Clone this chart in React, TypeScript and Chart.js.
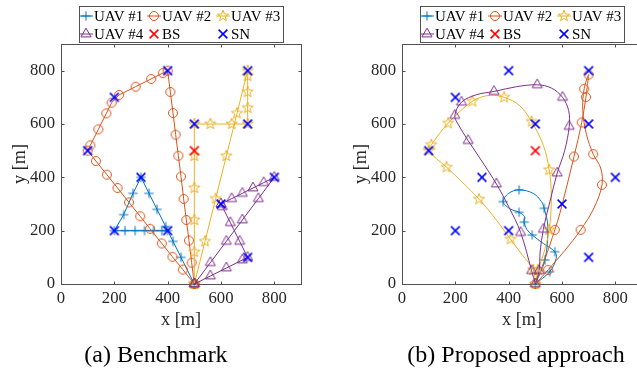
import React, { useEffect, useRef } from 'react';
import { Chart, registerables } from 'chart.js';

Chart.register(...registerables);

// ---------- axes / text ----------
const X_TICKS = [0, 200, 400, 600, 800];
const Y_TICKS = [0, 200, 400, 600, 800];
const AXIS_MIN = 0;
const AXIS_MAX = 900;
const X_LABEL = 'x [m]';
const Y_LABEL = 'y [m]';
const LEGEND_LABELS = ['UAV #1', 'UAV #2', 'UAV #3', 'UAV #4', 'BS', 'SN'];
const CAPTIONS = ['(a) Benchmark', '(b) Proposed approach'];

// ---------- nodes ----------
const SN_X = [400, 700, 200, 500, 700, 100, 300, 800, 600, 200, 400, 700];
const SN_Y = [800, 800, 700, 600, 600, 500, 400, 400, 300, 200, 200, 100];
const BS_X = [500];
const BS_Y = [500];

// ---------- (a) Benchmark: straight trajectories, marker at every sample ----------
const B1_X = [500, 450, 420, 393, 360, 330, 300, 270, 235, 200, 240, 278, 313, 347, 378, 400];
const B1_Y = [0, 100, 160, 215, 280, 340, 400, 340, 260, 200, 200, 200, 200, 200, 200, 200];
const B2_X = [500, 490, 480, 470, 460, 450, 440, 430, 420, 410, 400, 382, 338, 280, 218, 190, 170, 140, 110, 100, 131, 172, 212, 255, 297, 334, 378, 418, 457, 500];
const B2_Y = [0, 80, 163, 240, 319, 403, 481, 560, 641, 720, 800, 791, 769, 740, 709, 680, 640, 580, 520, 500, 461, 410, 360, 306, 254, 207, 152, 102, 54, 0];
const B3_X = [500, 500, 500, 500, 500, 500, 560, 640, 700, 700, 700, 700, 700, 660, 620, 580, 540, 500];
const B3_Y = [0, 120, 240, 360, 480, 600, 600, 600, 600, 660, 720, 780, 800, 640, 480, 320, 160, 0];
const B4_X = [500, 560, 620, 680, 700, 670, 635, 605, 600, 640, 680, 720, 760, 800, 740, 680, 620, 560, 500];
const B4_Y = [0, 30, 60, 90, 100, 160, 230, 290, 300, 320, 340, 360, 380, 400, 320, 240, 160, 80, 0];

// ---------- (b) Proposed: smooth trajectories (waypoints) and marker samples ----------
const P1_PATH_X = [500, 554, 578, 573, 530, 488, 468, 458, 460, 439, 405, 379, 400, 439, 492, 523, 533, 547, 536, 500];
const P1_PATH_Y = [0, 46, 95, 121, 152, 184, 205, 232, 252, 269, 282, 309, 340, 353, 340, 309, 284, 215, 90, 0];
const P1_MARK_X = [500, 554, 573, 488, 458, 439, 379, 439, 533, 536];
const P1_MARK_Y = [0, 46, 121, 184, 232, 269, 309, 353, 284, 90];

const P2_PATH_X = [500, 548, 610, 670, 720, 750, 745, 717, 692, 678, 683, 700, 695, 690, 674, 645, 592, 573, 535, 500];
const P2_PATH_Y = [0, 53, 125, 203, 285, 372, 435, 487, 560, 650, 732, 785, 745, 701, 606, 478, 265, 203, 90, 0];
const P2_MARK_X = [500, 548, 670, 750, 717, 683, 700, 690, 674, 645, 573];
const P2_MARK_Y = [0, 53, 203, 372, 487, 732, 785, 701, 606, 478, 203];

const P3_PATH_X = [500, 492, 450, 407, 350, 289, 228, 167, 100, 110, 173, 264, 330, 383, 440, 486, 530, 552, 560, 552, 530, 510, 500];
const P3_PATH_Y = [0, 53, 110, 168, 245, 318, 380, 438, 500, 522, 603, 685, 708, 700, 670, 609, 520, 428, 330, 203, 110, 53, 0];
const P3_MARK_X = [500, 492, 407, 289, 167, 100, 110, 173, 264, 383, 486, 552, 552, 510];
const P3_MARK_Y = [0, 53, 168, 318, 438, 500, 522, 603, 685, 700, 609, 428, 203, 53];

const P4_PATH_X = [500, 486, 445, 400, 354, 300, 248, 210, 198, 223, 280, 345, 430, 507, 560, 602, 625, 627, 610, 582, 555, 530, 518, 514, 500];
const P4_PATH_Y = [0, 50, 193, 290, 375, 460, 538, 600, 632, 682, 710, 722, 740, 747, 735, 700, 650, 591, 500, 416, 310, 205, 120, 50, 0];
const P4_MARK_X = [500, 486, 445, 354, 248, 198, 223, 345, 507, 602, 627, 582, 530, 514];
const P4_MARK_Y = [0, 50, 193, 375, 538, 632, 682, 722, 747, 700, 591, 416, 205, 50];

// ---------- styles ----------
const FONT = "'Liberation Serif', 'Times New Roman', serif";
const TEXT_COLOR = '#262626';
const AXIS_COLOR = '#505050';
const UAV_COLORS = ['#0072BD', '#D95319', '#EDB120', '#7E2F8E'];
const BS_COLOR = '#FF0000';
const SN_COLOR = '#0000FF';
type Kind = 'plus' | 'circle' | 'star' | 'triangle' | 'x';
const UAV_KINDS: Kind[] = ['plus', 'circle', 'star', 'triangle'];

const zip = (xs: number[], ys: number[]) => xs.map((x, i) => ({ x, y: ys[i] }));

function traceMarker(ctx: CanvasRenderingContext2D, kind: Kind, x: number, y: number) {
  switch (kind) {
    case 'plus': {
      const r = 4.6;
      ctx.moveTo(x - r, y); ctx.lineTo(x + r, y);
      ctx.moveTo(x, y - r); ctx.lineTo(x, y + r);
      break;
    }
    case 'circle':
      ctx.moveTo(x + 4.5, y);
      ctx.arc(x, y, 4.5, 0, Math.PI * 2);
      break;
    case 'star': {
      const R = 5.8, r = R * 0.42;
      for (let i = 0; i < 10; i++) {
        const a = -Math.PI / 2 + (i * Math.PI) / 5;
        const rr = i % 2 === 0 ? R : r;
        const px = x + rr * Math.cos(a), py = y + rr * Math.sin(a);
        if (i === 0) ctx.moveTo(px, py); else ctx.lineTo(px, py);
      }
      ctx.closePath();
      break;
    }
    case 'triangle': {
      const r = 5.8;
      for (let i = 0; i < 3; i++) {
        const a = -Math.PI / 2 + (i * 2 * Math.PI) / 3;
        const px = x + r * Math.cos(a), py = y + r * Math.sin(a);
        if (i === 0) ctx.moveTo(px, py); else ctx.lineTo(px, py);
      }
      ctx.closePath();
      break;
    }
    case 'x': {
      const h = 4.4;
      ctx.moveTo(x - h, y - h); ctx.lineTo(x + h, y + h);
      ctx.moveTo(x + h, y - h); ctx.lineTo(x - h, y + h);
      break;
    }
  }
}

function drawMarker(ctx: CanvasRenderingContext2D, kind: Kind, x: number, y: number, color: string, width: number) {
  ctx.save();
  ctx.strokeStyle = color;
  ctx.lineWidth = width;
  ctx.beginPath();
  traceMarker(ctx, kind, x, y);
  ctx.stroke();
  ctx.restore();
}

function markerImage(kind: Kind, color: string, width: number) {
  const c = document.createElement('canvas');
  c.width = 16; c.height = 16;
  const ctx = c.getContext('2d')!;
  drawMarker(ctx, kind, 8, 8, color, width);
  return c;
}

const LEGEND_ITEMS = [
  { kind: 'plus' as Kind, color: UAV_COLORS[0], line: true, w: 1 },
  { kind: 'circle' as Kind, color: UAV_COLORS[1], line: true, w: 1 },
  { kind: 'star' as Kind, color: UAV_COLORS[2], line: true, w: 1 },
  { kind: 'triangle' as Kind, color: UAV_COLORS[3], line: true, w: 1 },
  { kind: 'x' as Kind, color: BS_COLOR, line: false, w: 1.5 },
  { kind: 'x' as Kind, color: SN_COLOR, line: false, w: 1.5 },
];
const LEGEND_COLS = [25, 93, 162];

const framePlugin = {
  id: 'matlabFrame',
  beforeDatasetsDraw(chart: any) {
    const { ctx, chartArea: a, scales } = chart;
    const L = Math.round(a.left) + 0.5, R = Math.round(a.right) + 0.5;
    const T = Math.round(a.top) + 0.5, B = Math.round(a.bottom) + 0.5;
    ctx.save();
    ctx.strokeStyle = AXIS_COLOR;
    ctx.lineWidth = 1;
    ctx.strokeRect(L, T, R - L, B - T);
    ctx.beginPath();
    X_TICKS.forEach((v) => {
      const px = Math.round(scales.x.getPixelForValue(v)) + 0.5;
      ctx.moveTo(px, B); ctx.lineTo(px, B - 3);
      ctx.moveTo(px, T); ctx.lineTo(px, T + 3);
    });
    Y_TICKS.forEach((v) => {
      const py = Math.round(scales.y.getPixelForValue(v)) + 0.5;
      ctx.moveTo(L, py); ctx.lineTo(L + 3, py);
      ctx.moveTo(R, py); ctx.lineTo(R - 3, py);
    });
    ctx.stroke();
    ctx.restore();
  },
};

const legendPlugin = {
  id: 'boxLegend',
  afterDraw(chart: any) {
    const { ctx, chartArea } = chart;
    const x0 = Math.round(chartArea.left);
    ctx.save();
    ctx.fillStyle = '#ffffff';
    ctx.fillRect(x0 + 18, 6, 204, 37);
    ctx.strokeStyle = AXIS_COLOR;
    ctx.lineWidth = 1;
    ctx.strokeRect(x0 + 18.5, 6.5, 204, 36);
    ctx.font = `15px ${FONT}`;
    ctx.textBaseline = 'middle';
    ctx.textAlign = 'left';
    LEGEND_ITEMS.forEach((it, i) => {
      const col = i % 3, row = Math.floor(i / 3);
      const mx = x0 + LEGEND_COLS[col];
      const my = 16 + row * 18;
      if (it.line) {
        ctx.strokeStyle = it.color;
        ctx.lineWidth = 1;
        ctx.beginPath();
        ctx.moveTo(mx - 7, my); ctx.lineTo(mx + 7, my);
        ctx.stroke();
      }
      drawMarker(ctx, it.kind, mx, my, it.color, it.w);
      ctx.fillStyle = '#000000';
      ctx.fillText(LEGEND_LABELS[i], mx + 8, my + 1);
    });
    ctx.restore();
  },
};

type Uav = { pathX: number[]; pathY: number[]; markX: number[]; markY: number[] };

const BENCH: Uav[] = [
  { pathX: B1_X, pathY: B1_Y, markX: B1_X, markY: B1_Y },
  { pathX: B2_X, pathY: B2_Y, markX: B2_X, markY: B2_Y },
  { pathX: B3_X, pathY: B3_Y, markX: B3_X, markY: B3_Y },
  { pathX: B4_X, pathY: B4_Y, markX: B4_X, markY: B4_Y },
];
const PROP: Uav[] = [
  { pathX: P1_PATH_X, pathY: P1_PATH_Y, markX: P1_MARK_X, markY: P1_MARK_Y },
  { pathX: P2_PATH_X, pathY: P2_PATH_Y, markX: P2_MARK_X, markY: P2_MARK_Y },
  { pathX: P3_PATH_X, pathY: P3_PATH_Y, markX: P3_MARK_X, markY: P3_MARK_Y },
  { pathX: P4_PATH_X, pathY: P4_PATH_Y, markX: P4_MARK_X, markY: P4_MARK_Y },
];

function buildConfig(uavs: Uav[], tension: number): any {
  const ds: any[] = [];
  uavs.forEach((u, i) => {
    ds.push({
      data: zip(u.pathX, u.pathY),
      showLine: true,
      pointRadius: 0,
      borderColor: UAV_COLORS[i],
      borderWidth: 1,
      tension,
      fill: false,
      clip: false,
    });
    ds.push({
      data: zip(u.markX, u.markY),
      showLine: false,
      pointStyle: markerImage(UAV_KINDS[i], UAV_COLORS[i], 1),
      pointRadius: 5,
      clip: false,
    });
  });
  ds.push({
    data: zip(BS_X, BS_Y),
    showLine: false,
    pointStyle: markerImage('x', BS_COLOR, 1.5),
    pointRadius: 5,
    clip: false,
  });
  ds.push({
    data: zip(SN_X, SN_Y),
    showLine: false,
    pointStyle: markerImage('x', SN_COLOR, 1.5),
    pointRadius: 5,
    clip: false,
  });
  const n = ds.length;
  ds.forEach((d, i) => (d.order = n - i));

  const tickFont = { family: FONT, size: 16.7 };
  const titleFont = { family: FONT, size: 18.3 };
  return {
    type: 'scatter',
    data: { datasets: ds },
    options: {
      animation: false,
      responsive: true,
      maintainAspectRatio: false,
      events: [],
      layout: { padding: { left: 0, top: 44, right: 40, bottom: 0 } },
      plugins: { legend: { display: false }, tooltip: { enabled: false }, title: { display: false } },
      scales: {
        x: {
          type: 'linear',
          min: AXIS_MIN,
          max: AXIS_MAX,
          grid: { display: false, drawTicks: false },
          border: { display: false },
          afterBuildTicks: (s: any) => { s.ticks = X_TICKS.map((v) => ({ value: v })); },
          afterFit: (s: any) => { s.height = 86; },
          ticks: { color: TEXT_COLOR, font: tickFont, padding: 5, maxRotation: 0, autoSkip: false },
          title: { display: true, text: X_LABEL, color: TEXT_COLOR, font: titleFont, padding: { top: 0, bottom: 39 } },
        },
        y: {
          type: 'linear',
          min: AXIS_MIN,
          max: AXIS_MAX,
          grid: { display: false, drawTicks: false },
          border: { display: false },
          afterBuildTicks: (s: any) => { s.ticks = Y_TICKS.map((v) => ({ value: v })); },
          afterFit: (s: any) => { s.width = 61; },
          ticks: { color: TEXT_COLOR, font: tickFont, padding: 6, autoSkip: false },
          title: { display: true, text: Y_LABEL, color: TEXT_COLOR, font: titleFont, padding: { top: 9, bottom: 0 } },
        },
      },
    },
    plugins: [framePlugin, legendPlugin],
  };
}

function Panel({ uavs, tension, left }: { uavs: Uav[]; tension: number; left: number }) {
  const ref = useRef<HTMLCanvasElement>(null);
  useEffect(() => {
    const chart = new Chart(ref.current!, buildConfig(uavs, tension));
    return () => chart.destroy();
  }, []);
  return (
    <div style={{ position: 'absolute', left, top: 0, width: 341, height: 370 }}>
      <canvas ref={ref} />
    </div>
  );
}

const captionStyle = (center: number): React.CSSProperties => ({
  position: 'absolute',
  left: center - 200,
  width: 400,
  top: 342,
  textAlign: 'center',
  fontFamily: FONT,
  fontSize: 24,
  lineHeight: '24px',
  color: '#000',
  whiteSpace: 'nowrap',
});

export default function App() {
  return (
    <div style={{ position: 'fixed', left: 0, top: 0, width: 637, height: 370, overflow: 'hidden', background: '#fff' }}>
      <Panel uavs={BENCH} tension={0} left={0} />
      <Panel uavs={PROP} tension={0.35} left={341} />
      <div style={captionStyle(156)}>{CAPTIONS[0]}</div>
      <div style={captionStyle(516)}>{CAPTIONS[1]}</div>
    </div>
  );
}
